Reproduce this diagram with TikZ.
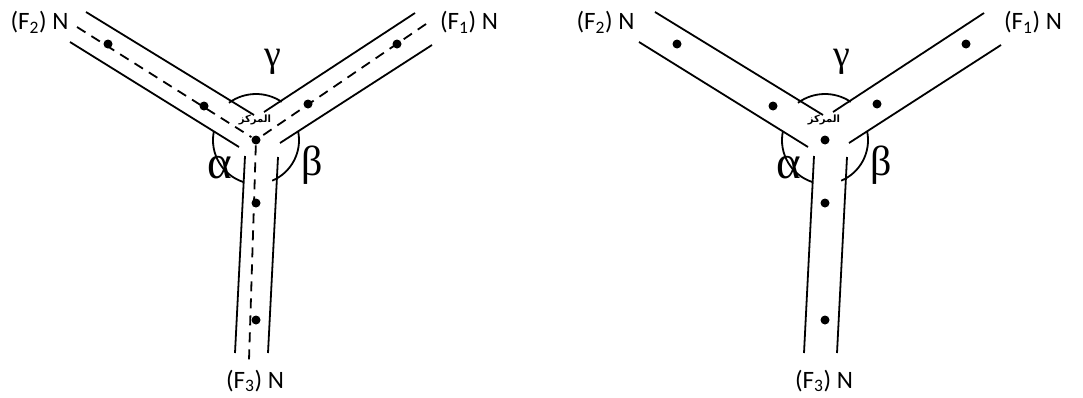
\documentclass[tikz,border=0pt]{standalone}
\usepackage{fontspec}
\setmainfont{Carlito}
\newfontfamily\greekfont{Liberation Serif}
\newfontfamily\arabicfont[Script=Arabic]{DejaVu Sans}
\TeXXeTstate=1
\tikzset{
	dot/.style={circle,fill,inner sep=0pt,minimum size=9pt},
	force/.style={inner sep=0pt,font=\fontsize{25}{29}\selectfont},
	angle/.style={inner sep=0pt,font=\greekfont\fontsize{42}{46}\selectfont},
	hub/.style={inner sep=0pt,font=\arabicfont\bfseries\fontsize{10}{12}\selectfont}
}
\begin{document}
\begin{tikzpicture}[x=1pt, y=-1pt, line width=1.8pt]
	\useasboundingbox (0,0) rectangle (1083,397);

	\foreach \sx/\fig/\fx/\fy in {0/L/469/39.5, 569/R/464/36.5}{
		\begin{scope}[xshift=\sx pt]
			%bands
			\draw (86,12)--(254,115);
			\draw (70,42)--(239,147);
			\draw (415,13)--(264,112);
			\draw (432,45)--(280,143);
			\draw (245,156)--(235,353);
			\draw (278,157)--(268,353);

			%points
			\node[dot] (c\fig) at (256,140){};
			\node[dot] (a\fig) at (108,44){};
			\node[dot] (b\fig) at (204,106){};
			\node[dot] (d\fig) at (308,104){};
			\node[dot] (e\fig) at (397,44){};
			\node[dot] (f\fig) at (256,203){};
			\node[dot] (g\fig) at (256,320){};

			%angles
			\draw ([shift={(-126:46)}]c\fig) arc[start angle=-126, end angle=-56, radius=46];
			\draw ([shift={(-169:43)}]c\fig) arc[start angle=-169, end angle=-252, radius=44];
			\draw ([shift={(-11:43)}]c\fig) arc[start angle=-11, end angle=67, radius=44];
			\node[angle, scale=1.12] (alpha\fig) at (220,168){α};
			\node[angle] (beta\fig) at (312,165){β};
			\node[angle, scale=0.9] (gamma\fig) at (273,62){γ};

			%labels
			\node[hub] (hub\fig) at (255,120){\beginR المركز\endR};
			\node[force] (ftwo\fig) at (\fy,22){(F\textsubscript{2}) N};
			\node[force] (fone\fig) at (\fx,22){(F\textsubscript{1}) N};
			\node[force] (fthree\fig) at (255,381){(F\textsubscript{3}) N};
		\end{scope}
	}

	%dashed axes
	\coordinate (endtwo) at (77,27);
	\coordinate (endone) at (426,24);
	\coordinate (endthree) at (249,360);
	\draw[dashed, dash pattern=on 10pt off 7pt] (endtwo)--(cL);
	\draw[dashed, dash pattern=on 10pt off 7pt] (endone)--(cL);
	\draw[dashed, dash pattern=on 10pt off 7pt] (cL)--(endthree);
\end{tikzpicture}
\end{document}
